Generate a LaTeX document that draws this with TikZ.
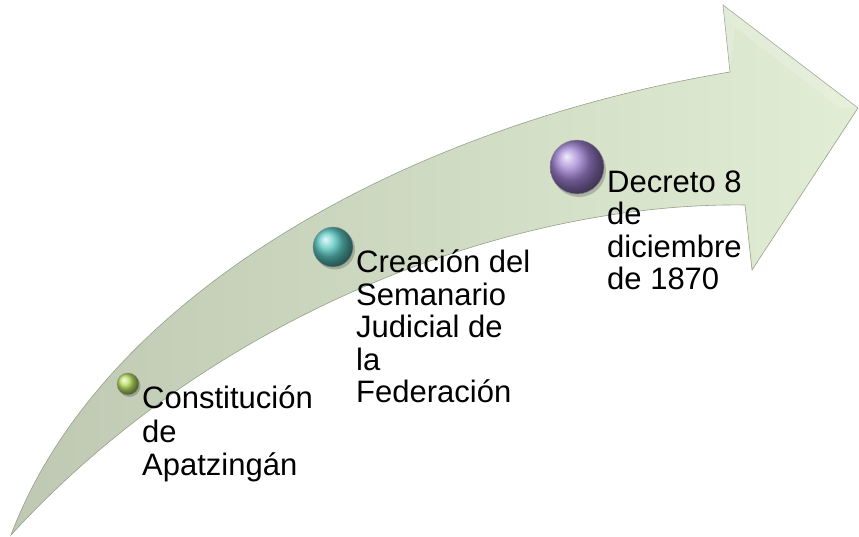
\documentclass[tikz,border=0pt]{standalone}
\usepackage{fontspec}
\setmainfont{Liberation Sans}
\usetikzlibrary{shadings}
\definecolor{arrowL}{RGB}{190,200,178}
\definecolor{arrowR}{RGB}{225,237,212}
\definecolor{arrowEdge}{RGB}{150,160,138}
\definecolor{ballGreen}{RGB}{185,222,95}
\definecolor{ballTeal}{RGB}{90,200,194}
\definecolor{ballPurple}{RGB}{160,130,210}
\tikzset{
  lbl/.style={anchor=base west, align=left, inner sep=0pt, font=\fontsize{31}{32.5}\selectfont, text=black},
  ballshadow/.style={fill=black, opacity=0.2},
  marker/.style={shading=ball, draw=black!45, line width=0.4pt}
}
\begin{document}
\begin{tikzpicture}[x=1pt,y=1pt]
\useasboundingbox (0,0) rectangle (859,537);
% arrow
\path[left color=arrowL, right color=arrowR, draw=arrowEdge, line width=0.6pt, line join=miter]
  (11,2) .. controls (100,238) and (400,410) .. (730,465)
  -- (723,532) -- (858,429) -- (752,267) -- (745,332)
  .. controls (520,335) and (220,230) .. (11,2)
  -- cycle;
% faint bevel highlight on head
\path[fill=white, opacity=0.18] (730,465) -- (723,532) -- (858,429) -- (840,429) -- (735,510) -- cycle;
% markers
\fill[ballshadow] (129.5,151) circle (11);
\shade[marker, ball color=ballGreen] (128,153) coordinate (g) circle (11);
\fill[ballshadow] (335,287.5) circle (20);
\shade[marker, ball color=ballTeal] (333,290) coordinate (t) circle (20);
\fill[ballshadow] (579,367) circle (27);
\shade[marker, ball color=ballPurple] (577,370) coordinate (p) circle (27);
% labels (anchored at the baseline of the last line)
\node[lbl, font=\fontsize{31}{33.5}\selectfont] (l1) at (142,61) {Constitución\\de\\Apatzingán};
\node[lbl] (l2) at (356,134) {Creación del\\Semanario\\Judicial de\\la\\Federación};
\node[lbl] (l3) at (607,247) {Decreto 8\\de\\diciembre\\de 1870};
\end{tikzpicture}
\end{document}
